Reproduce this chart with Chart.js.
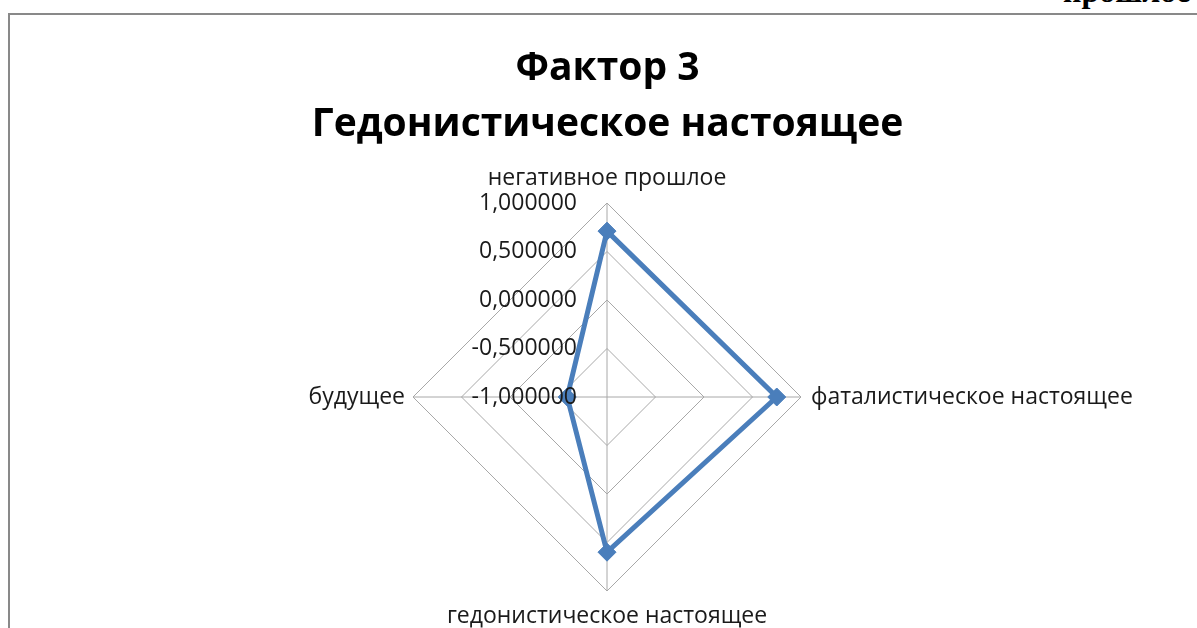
<!DOCTYPE html>
<html>
<head>
<meta charset="utf-8">
<script src="https://cdn.jsdelivr.net/npm/chart.js@4/dist/chart.umd.min.js"></script>
<style>
  html, body { margin: 0; padding: 0; background: #fff; overflow: hidden; }
  #wrap { position: relative; width: 1197px; height: 628px; overflow: hidden; }
  #frame { position: absolute; left: 8px; top: 13px; width: 1300px; height: 700px;
           border-top: 2px solid #898989; border-left: 2px solid #898989; }
  #cut { position: absolute; left: 1063px; top: -25px; font: bold 32px "Liberation Serif", serif;
         line-height: 1; color: #000; white-space: nowrap; }
  canvas { position: absolute; left: 0; top: 0; }
</style>
</head>
<body>
<div id="wrap">
  <div id="frame"></div>
  <div id="cut">прошлое</div>
  <canvas id="radar" width="1197" height="628"></canvas>
</div>
<script>
const axes = ["негативное прошлое", "фаталистическое настоящее", "гедонистическое настоящее", "будущее"];
const factor3 = [0.71, 0.75, 0.60, -0.59];
const tickValues = [-1, -0.5, 0, 0.5, 1];
const tickLabels = ["-1,000000", "-0,500000", "0,000000", "0,500000", "1,000000"];

const textFont = '"Open Sans", "DejaVu Sans", sans-serif';

// Excel-style labels: ticks left of the vertical axis, names just outside the vertices
const excelLabels = {
  id: "excelLabels",
  afterDatasetsDraw(chart) {
    const r = chart.scales.r;
    const ctx = chart.ctx;
    ctx.save();
    ctx.fillStyle = "#1a1a1a";
    ctx.font = "23px " + textFont;
    ctx.textAlign = "right";
    ctx.textBaseline = "middle";
    r.ticks.forEach((t) => {
      const i = tickValues.indexOf(t.value);
      const y = r.yCenter - r.getDistanceFromCenterForValue(t.value);
      ctx.fillText(i >= 0 ? tickLabels[i] : t.label, r.xCenter - 30, y);
    });

    ctx.font = "23px " + textFont;
    const gap = [13, 10, 14, 8];
    const align = [["center", "bottom"], ["left", "middle"], ["center", "top"], ["right", "middle"]];
    axes.forEach((name, i) => {
      const p = r.getPointPosition(i, r.drawingArea + gap[i]);
      ctx.textAlign = align[i][0];
      ctx.textBaseline = align[i][1];
      ctx.fillText(name, p.x, p.y);
    });
    ctx.restore();
  },
};

new Chart(document.getElementById("radar"), {
  type: "radar",
  data: {
    labels: axes,
    datasets: [
      {
        label: "Фактор 3",
        data: factor3,
        borderColor: "#4a7ebb",
        backgroundColor: "#4a7ebb",
        borderWidth: 5,
        fill: false,
        pointStyle: "rectRot",
        pointRadius: 9,
        pointHoverRadius: 9,
        pointBackgroundColor: "#4a7ebb",
        pointBorderColor: "#4a7ebb",
        pointBorderWidth: 1,
      },
    ],
  },
  options: {
    responsive: false,
    animation: false,
    events: [],
    layout: { padding: { left: 18, right: 0, top: 0, bottom: 37 } },
    scales: {
      r: {
        min: -1,
        max: 1,
        ticks: { stepSize: 0.5, display: false },
        grid: { color: "#a8a8a8", lineWidth: 1 },
        angleLines: { color: "#a8a8a8", lineWidth: 1 },
        pointLabels: { display: false },
      },
    },
    plugins: {
      legend: { display: false },
      tooltip: { enabled: false },
      title: {
        display: true,
        text: ["Фактор 3", "Гедонистическое настоящее"],
        color: "#000",
        font: { family: textFont, size: 39, weight: "bold", lineHeight: "56px" },
        padding: { top: 41, bottom: 50 },
      },
    },
  },
  plugins: [excelLabels],
});
</script>
</body>
</html>
